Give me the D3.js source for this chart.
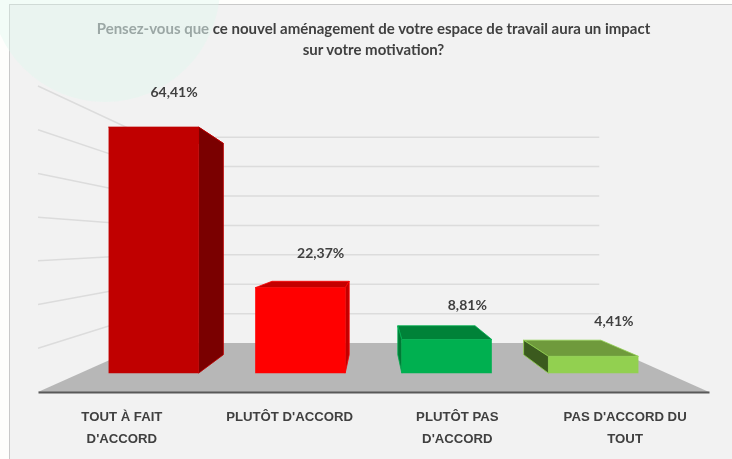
<!DOCTYPE html>
<html>
<head>
<meta charset="utf-8">
<script src="https://cdn.jsdelivr.net/npm/d3@7"></script>
<style>
  html, body { margin: 0; padding: 0; background: #fefefc; }
  svg { display: block; font-family: Lato, "Open Sans", sans-serif; filter: blur(0.4px); }
  .title { font-size: 15px; font-weight: 700; fill: #404040; text-anchor: middle; }
  .bar-label { font-size: 14px; font-weight: 700; fill: #404040; text-anchor: middle; }
  .x-axis text { font-size: 13.2px; font-weight: 700; fill: #404040; }
</style>
</head>
<body>
<svg id="chart"></svg>
<script>
const categories = ["TOUT À FAIT D'ACCORD", "PLUTÔT D'ACCORD", "PLUTÔT PAS D'ACCORD", "PAS D'ACCORD DU TOUT"];
const categoryLines = [["TOUT À FAIT", "D'ACCORD"], ["PLUTÔT D'ACCORD"], ["PLUTÔT PAS", "D'ACCORD"], ["PAS D'ACCORD DU", "TOUT"]];
const values = [64.41, 22.37, 8.81, 4.41];
const valueLabels = ["64,41%", "22,37%", "8,81%", "4,41%"];
const frontColors = ["#c00000", "#ff0000", "#00b050", "#92d050"];
const topColors = ["#c00000", "#c40000", "#008238", "#6f9a3c"];
const sideColors = ["#7a0000", "#c00000", "#007a35", "#3b5a1e"];
const gridTicks = [10, 20, 30, 40, 50, 60, 70];

const width = 732, height = 459;

// Perspective of the fake 3d box: everything shrinks towards the vanishing point
const vanish = {x: 373.5, y: 242.5};
const depthBack = 0.673, barFront = 0.874, barBack = 0.75;

const xScale = d3.scaleBand()
    .domain(categories)
    .range([38, 709])
    .paddingInner(0.386)
    .paddingOuter(0.193);

const yScale = d3.scaleLinear()
    .domain([0, 70])
    .range([392, 86]);

const project = (x, v, s) => [
  vanish.x + (x - vanish.x) * s,
  vanish.y + (yScale(v) - vanish.y) * s
];

const polyLine = d3.line().curve(d3.curveLinearClosed);

const svg = d3.select('#chart')
    .attr('width', width)
    .attr('height', height);

// Panel background and the pale circle in the corner
svg.append('rect')
    .attr('x', 9.5).attr('y', 4.5)
    .attr('width', width).attr('height', height)
    .attr('fill', '#f2f2f2')
    .attr('stroke', '#c9c9c9')
    .attr('stroke-width', 1);

svg.append('circle')
    .attr('cx', 105).attr('cy', -13).attr('r', 115)
    .attr('fill', '#dcf8ee')
    .attr('fill-opacity', 0.35);

// Floor
const [x0, x1] = xScale.range();
svg.append('path')
    .attr('d', polyLine([project(x0, 0, 1), project(x1, 0, 1), project(x1, 0, depthBack), project(x0, 0, depthBack)]))
    .attr('fill', '#b7b7b7');

// Gridlines: along the left wall, then across the back wall
const grid = svg.append('g').attr('class', 'grid');
grid.selectAll('.grid-line')
    .data(gridTicks)
  .join('path')
    .attr('class', 'grid-line')
    .attr('d', d => d3.line()([project(x0, d, 1), project(x0, d, depthBack), project(x1, d, depthBack)]))
    .attr('fill', 'none')
    .attr('stroke', '#dcdcdc')
    .attr('stroke-width', 1.5);

// X axis, the domain line is the front edge of the floor
const xAxis = d3.axisBottom(xScale).tickSize(0).tickPadding(0);
const xAxisG = svg.append('g')
    .attr('class', 'axis x-axis')
    .attr('transform', `translate(0,${yScale(0)})`)
    .call(xAxis);

xAxisG.select('.domain')
    .attr('stroke', '#595959')
    .attr('stroke-width', 2);

xAxisG.selectAll('.tick text').each(function(d, i) {
  const label = d3.select(this).text(null).attr('y', 0).attr('dy', null);
  categoryLines[i].forEach((line, k) => {
    label.append('tspan')
        .attr('x', 0)
        .attr('y', 29 + k * 22)
        .text(line);
  });
});

// Bars
const bars = svg.selectAll('.bar')
    .data(categories)
  .join('g')
    .attr('class', 'bar');

bars.each(function(cat, i) {
  const g = d3.select(this);
  const left = xScale(cat), right = left + xScale.bandwidth();
  const v = values[i];
  // the visible side is the one facing the vanishing point
  const sideX = right < vanish.x ? right : left;

  g.append('path')
      .attr('d', polyLine([project(left, v, barFront), project(right, v, barFront), project(right, v, barBack), project(left, v, barBack)]))
      .attr('fill', topColors[i])
      .attr('stroke', frontColors[i])
      .attr('stroke-width', 0.8);
  g.append('path')
      .attr('d', polyLine([project(sideX, 0, barFront), project(sideX, v, barFront), project(sideX, v, barBack), project(sideX, 0, barBack)]))
      .attr('fill', sideColors[i])
      .attr('stroke', frontColors[i])
      .attr('stroke-width', 0.8);
  g.append('path')
      .attr('d', polyLine([project(left, 0, barFront), project(right, 0, barFront), project(right, v, barFront), project(left, v, barFront)]))
      .attr('fill', frontColors[i]);
});

// Value labels
svg.selectAll('.bar-label')
    .data(categories)
  .join('text')
    .attr('class', 'bar-label')
    .attr('x', (d, i) => project(xScale(d) + xScale.bandwidth() / 2, values[i], barFront)[0] + 20.5)
    .attr('y', (d, i) => project(xScale(d), values[i], barFront)[1] - 30)
    .text((d, i) => valueLabels[i]);

// Title
const title = svg.append('text').attr('class', 'title');
const line1 = title.append('tspan').attr('x', 373.5).attr('y', 34);
line1.append('tspan').attr('fill', '#9ba7a5').text('Pensez-vous que ');
line1.append('tspan').text('ce nouvel aménagement de votre espace de travail aura un impact');
title.append('tspan').attr('x', 373.5).attr('y', 55).text('sur votre motivation?');
</script>
</body>
</html>
